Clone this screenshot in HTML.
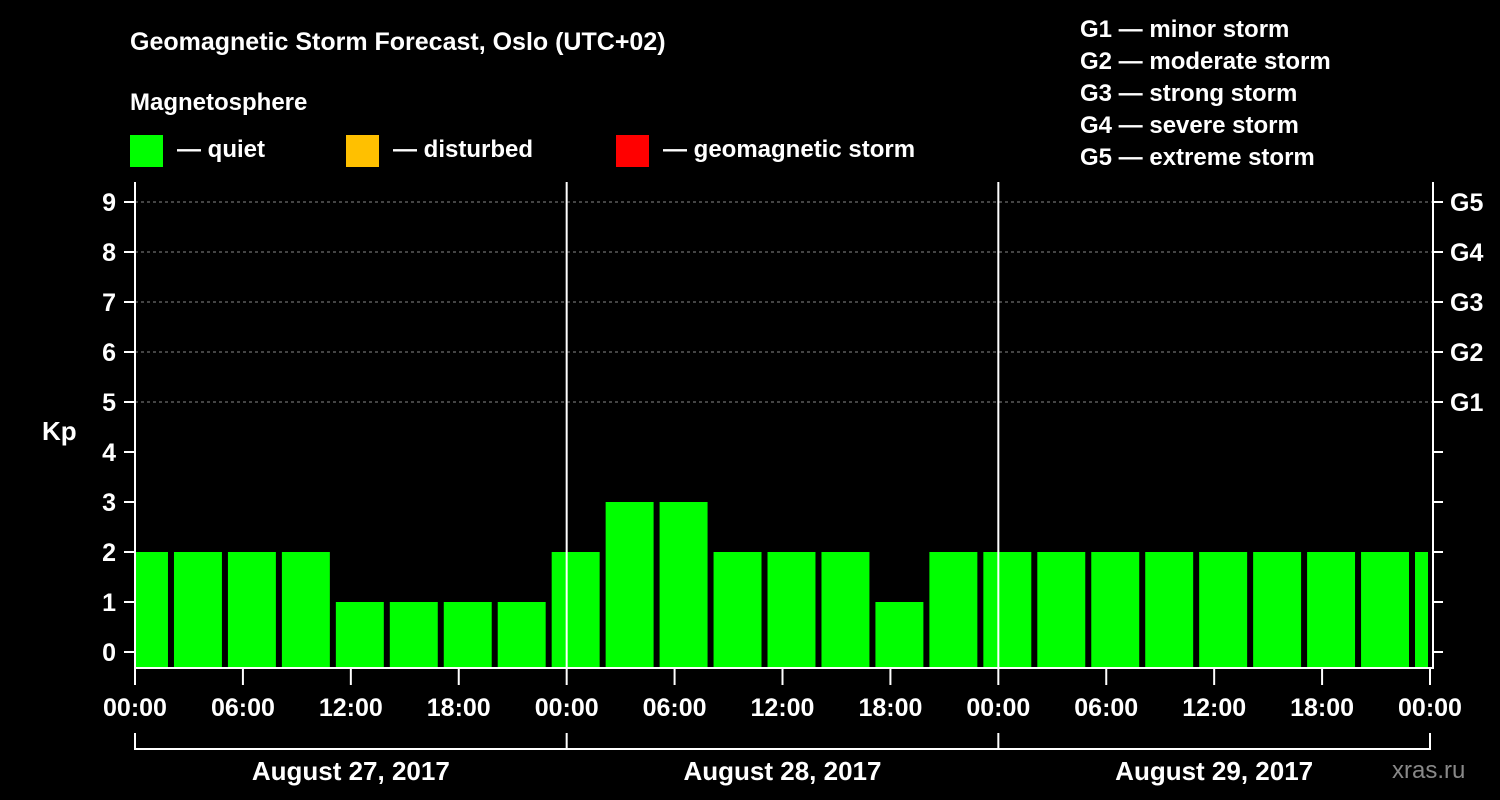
<!DOCTYPE html>
<html><head><meta charset="utf-8"><style>
body{margin:0;background:#000;}
svg{display:block;font-family:"Liberation Sans",Arial,sans-serif;font-weight:bold;}
</style></head><body>
<svg id="c" width="1500" height="800" viewBox="0 0 1500 800">
<rect width="1500" height="800" fill="#000"/>
<text x="130" y="50" fill="#fff" font-size="25">Geomagnetic Storm Forecast, Oslo (UTC+02)</text>
<text x="130" y="110" fill="#fff" font-size="24">Magnetosphere</text>
<rect x="130" y="135" width="33" height="32" fill="#00ff00"/>
<text x="177" y="157" fill="#fff" font-size="24">— quiet</text>
<rect x="346" y="135" width="33" height="32" fill="#ffc000"/>
<text x="393" y="157" fill="#fff" font-size="24">— disturbed</text>
<rect x="616" y="135" width="33" height="32" fill="#ff0000"/>
<text x="663" y="157" fill="#fff" font-size="24">— geomagnetic storm</text>
<g fill="#fff" font-size="24">
<text x="1080" y="37">G1 — minor storm</text>
<text x="1080" y="69">G2 — moderate storm</text>
<text x="1080" y="101">G3 — strong storm</text>
<text x="1080" y="133">G4 — severe storm</text>
<text x="1080" y="165">G5 — extreme storm</text>
</g>
<text x="42" y="440" fill="#fff" font-size="26">Kp</text>
<text x="1392" y="778" fill="#888" font-size="24" font-weight="normal">xras.ru</text>
<g id="plot"></g>
</svg>
<script>
const kpValues=[2,2,2,2,1,1,1,1,2,3,3,2,2,2,1,2,2,2,2,2,2,2,2,2,2];
const startHour=-1; // local hour of first interval start
const stepHours=3;
const yTicks=[0,1,2,3,4,5,6,7,8,9];
const gLabels=["G1","G2","G3","G4","G5"];
const xLabels=["00:00","06:00","12:00","18:00","00:00","06:00","12:00","18:00","00:00","06:00","12:00","18:00","00:00"];
const dayLabels=["August 27, 2017","August 28, 2017","August 29, 2017"];

const X0=135,X1=1430,TOTALH=72,Ytop=182,Ybot=668;
const x=h=>X0+(X1-X0)*h/TOTALH;
const y=v=>652-50*v;
const NS="http://www.w3.org/2000/svg";
const plot=document.getElementById('plot');
function mk(t,a,p){const e=document.createElementNS(NS,t);for(const k in a)e.setAttribute(k,a[k]);(p||plot).appendChild(e);return e;}
// grid
for(let v=5;v<=9;v++){
 const g=mk('line',{x1:X0,x2:1433,y1:y(v),y2:y(v),stroke:'#888','stroke-dasharray':'3,3','stroke-width':1});
 
 
}
// bars
kpValues.forEach((v,i)=>{
 let h0=startHour+i*stepHours,h1=h0+stepHours;
 let a=Math.max(x(h0)+3,X0+1),b=Math.min(x(h1)-3,X1-2);
 const col=v>=5?'#ff0000':(v>=4?'#ffc000':'#00ff00');
 const r=mk('rect',{x:a,y:y(v),width:b-a,height:Ybot-y(v),fill:col});
 
 
});
// day separators
[24,48].forEach(h=>{const l=mk('line',{x1:x(h),x2:x(h),y1:Ybot,y2:Ytop,stroke:'#fff','stroke-width':2});
 });
// frame
const f=mk('path',{d:`M${X0} ${Ytop}V${Ybot}H1433V${Ytop}`,fill:'none',stroke:'#fff','stroke-width':2});

// y ticks
yTicks.forEach(v=>{
 mk('line',{x1:124,x2:X0,y1:y(v),y2:y(v),stroke:'#fff','stroke-width':2});
 mk('line',{x1:1433,x2:1443,y1:y(v),y2:y(v),stroke:'#fff','stroke-width':2});
 const t=mk('text',{x:116,y:y(v)+9,fill:'#fff','font-size':25,'text-anchor':'end'});t.textContent=v;
 
});
gLabels.forEach((g,i)=>{const t=mk('text',{x:1450,y:y(5+i)+9,fill:'#fff','font-size':25});t.textContent=g;
 });
// x ticks
xLabels.forEach((s,i)=>{const h=i*6;
 mk('line',{x1:x(h),x2:x(h),y1:Ybot,y2:685,stroke:'#fff','stroke-width':2});
 const t=mk('text',{x:x(h),y:716,fill:'#fff','font-size':25,'text-anchor':'middle'});t.textContent=s;
 });
// day brackets
mk('path',{d:`M${x(0)} 733V749H${x(72)}V733M${x(24)} 733V749M${x(48)} 733V749`,fill:'none',stroke:'#fff','stroke-width':2});
dayLabels.forEach((s,i)=>{const t=mk('text',{x:x(i*24+12),y:780,fill:'#fff','font-size':26,'text-anchor':'middle'});t.textContent=s;
 });
</script>
</body></html>
